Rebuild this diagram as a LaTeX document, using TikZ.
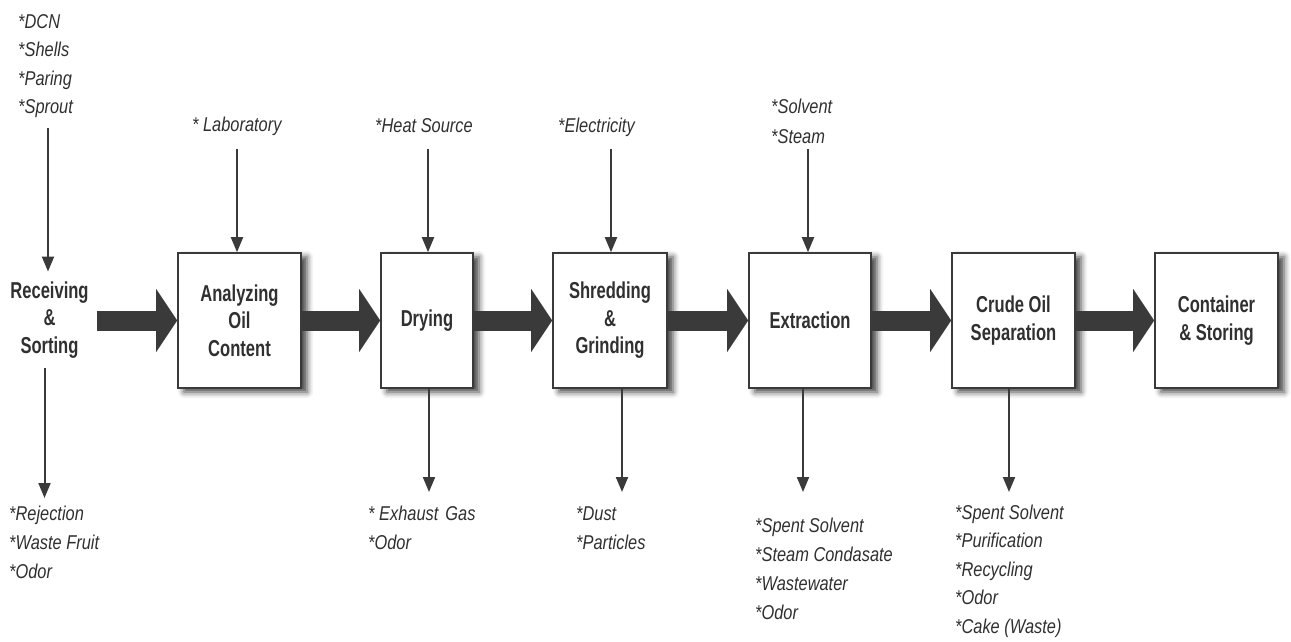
\documentclass[tikz,border=0pt]{standalone}
\usepackage{fontspec}
\setmainfont{Liberation Sans}
\newfontfamily\boxfont{Liberation Sans}[FakeStretch=0.72]
\newfontfamily\lblfont{Liberation Sans}[FakeStretch=0.82]
\usetikzlibrary{arrows.meta,shadows.blur}
\definecolor{ink}{HTML}{3A3A3A}
\definecolor{txt}{HTML}{303030}

\begin{document}
\begin{tikzpicture}[x=1pt,y=-1pt,
  stage/.style={draw=ink, line width=1.6pt, fill=white, inner sep=0pt, align=center,
    font=\boxfont\bfseries\fontsize{23}{27.5}\selectfont, text=txt,
    minimum height=135pt,
    blur shadow={shadow xshift=6pt, shadow yshift=-4pt, shadow blur radius=6pt, shadow opacity=75}},
  heading/.style={inner xsep=8pt, inner ysep=10pt, align=center,
    font=\boxfont\bfseries\fontsize{23}{27.5}\selectfont, text=txt},
  flow/.style={ink, line width=20pt, -{Triangle[length=21pt,width=62pt]}},
  feed/.style={ink, line width=2pt, -{Triangle[length=15pt,width=12pt]}},
  note/.style={anchor=north west, inner sep=0pt, align=left, text=txt,
    font=\lblfont\itshape\fontsize{20}{#1}\selectfont},
  note/.default=29,
]
\useasboundingbox (0,0) rectangle (1291,642);

% process stages
\node[heading] (recv) at (49.5,320) {Receiving\\\&\\Sorting};
\node[stage, minimum width=123pt] (ana) at (239.5,320.5) {Analyzing\\Oil\\Content};
\node[stage, minimum width=92pt]  (dry) at (427,320.5) {Drying};
\node[stage, minimum width=114pt] (shr) at (610,320.5) {Shredding\\\&\\Grinding};
\node[stage, minimum width=122pt] (ext) at (810,320.5) {Extraction};
\node[stage, minimum width=123pt] (sep) at (1013.5,320.5) {Crude Oil\\Separation};
\node[stage, minimum width=123pt] (sto) at (1216.5,320.5) {Container\\\& Storing};

% main flow
\draw[flow] (recv.east |- ana.west) -- (ana.west);
\draw[flow] (ana.east) -- (dry.west);
\draw[flow] (dry.east) -- (shr.west);
\draw[flow] (shr.east) -- (ext.west);
\draw[flow] (ext.east) -- (sep.west);
\draw[flow] (sep.east) -- (sto.west);

% inputs
\node[note=28.5] (srcL) at (18,8.05) {\strut*DCN\\*Shells\\*Paring\\*Sprout};
\node[note] (labL)  at (192,110.7) {\strut* Laboratory};
\node[note] (heatL) at (375,111.7) {\strut*Heat Source};
\node[note] (elecL) at (558,111.7) {\strut*Electricity};
\node[note=30] (solvL) at (771,92) {\strut*Solvent\\*Steam};

\coordinate (srcStart)  at (48,128);
\coordinate (labStart)  at (237,149);
\coordinate (heatStart) at (428,149);
\coordinate (elecStart) at (611,149);
\coordinate (solvStart) at (808,149);
\draw[feed] (srcStart)  -- (srcStart |- recv.north);
\draw[feed] (labStart)  -- (labStart |- ana.north);
\draw[feed] (heatStart) -- (heatStart |- dry.north);
\draw[feed] (elecStart) -- (elecStart |- shr.north);
\draw[feed] (solvStart) -- (solvStart |- ext.north);

% outputs
\coordinate (rejEnd)  at (44.5,498);
\coordinate (exhEnd)  at (429,492);
\coordinate (dustEnd) at (622,492);
\coordinate (spEnd)   at (803,492);
\coordinate (sepEnd)  at (1009,492);
\draw[feed] (recv.south -| rejEnd) -- (rejEnd);
\draw[feed] (dry.south -| exhEnd)  -- (exhEnd);
\draw[feed] (shr.south -| dustEnd) -- (dustEnd);
\draw[feed] (ext.south -| spEnd)   -- (spEnd);
\draw[feed] (sep.south -| sepEnd)  -- (sepEnd);

\node[note] (rejL)  at (9,499.7)   {\strut*Rejection\\*Waste Fruit\\*Odor};
\node[note] (exhL)  at (368,499.7) {\strut* Exhaust\hspace{0.35em}Gas\\*Odor};
\node[note] (dustL) at (576,499.7) {\strut*Dust\\*Particles};
\node[note] (spL)   at (755,511.7) {\strut*Spent Solvent\\*Steam Condasate\\*Wastewater\\*Odor};
\node[note=28.5] (sepL) at (955,499) {\strut*Spent Solvent\\*Purification\\*Recycling\\*Odor\\*Cake (Waste)};
\end{tikzpicture}
\end{document}
